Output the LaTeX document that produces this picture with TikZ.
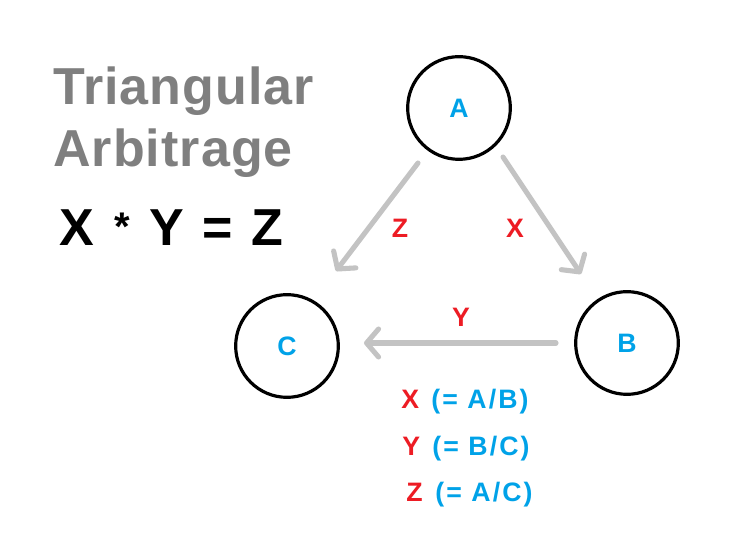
\documentclass[tikz,border=0pt]{standalone}
\usepackage{fontspec}
\setmainfont{Liberation Sans}
\newfontfamily\titlefont[LetterSpace=2]{Liberation Sans}
\newfontfamily\widefont[LetterSpace=8]{Liberation Sans}
\usetikzlibrary{arrows.meta}
\definecolor{ttlgray}{HTML}{7F7F7F}
\definecolor{arrgray}{HTML}{C3C3C3}
\definecolor{nblue}{HTML}{00A2E8}
\definecolor{lred}{HTML}{ED1C24}
\tikzset{
  cnode/.style={circle,draw=black,line width=2.4pt,minimum size=77pt,inner sep=0pt,
    text=nblue,font=\fontsize{20}{22}\selectfont\bfseries},
  flow/.style={draw=arrgray,line width=3.8pt,line cap=round,
    -{Straight Barb[length=9pt,width=21pt,line width=3.8pt,round]}},
  rlab/.style={text=lred,font=\fontsize{20}{22}\selectfont\bfseries,inner sep=0pt},
  blab/.style={text=nblue,font=\widefont\fontsize{20}{22}\selectfont\bfseries,inner sep=0pt},
  ttl/.style={text=ttlgray,font=\titlefont\fontsize{39}{46}\selectfont\bfseries,inner sep=0pt,anchor=base west},
  eqn/.style={text=black,font=\fontsize{39}{46}\selectfont\bfseries,inner sep=0pt,anchor=base}
}
\begin{document}
\begin{tikzpicture}[x=0.75pt,y=-0.75pt]
\useasboundingbox[fill=white] (0,0) rectangle (729,548);
% nodes
\node[cnode] (A) at (459,108) {A};
\node[cnode] (B) at (627,343) {B};
\node[cnode] (C) at (287,346) {C};
% arrow end points
\coordinate (zs) at (418,163);
\coordinate (ze) at (336,271);
\coordinate (xs) at (503,157);
\coordinate (xe) at (581,274);
\coordinate (ys) at (556,343);
\coordinate (ye) at (364,343);
\draw[flow] (zs) -- (ze);
\draw[flow] (xs) -- (xe);
\draw[flow] (ys) -- (ye);
% edge labels
\node[rlab] (lz) at (400,228) {Z};
\node[rlab] (lx) at (515,228) {X};
\node[rlab] (ly) at (461,317) {Y};
% title
\node[ttl] (t1) at (53,105) {Triangular};
\node[ttl] (t2) at (53,167) {Arbitrage};
% equation
\node[eqn] (eX) at (77,246) {X};
\node[eqn,font=\fontsize{30}{34}\selectfont\bfseries,anchor=center] (eS) at (122,227) {*};
\node[eqn] (eY) at (167,246) {Y};
\node[eqn] (eE) at (218,246) {=};
\node[eqn] (eZ) at (267,246) {Z};
% legend
\node[rlab,anchor=base west] (k1) at (401,409) {X};
\node[blab,anchor=base west] (d1) at (431,409) {(= A/B)};
\node[rlab,anchor=base west] (k2) at (402,456) {Y};
\node[blab,anchor=base west] (d2) at (432,456) {(= B/C)};
\node[rlab,anchor=base west] (k3) at (406,502) {Z};
\node[blab,anchor=base west] (d3) at (435,502) {(= A/C)};
\end{tikzpicture}
\end{document}
